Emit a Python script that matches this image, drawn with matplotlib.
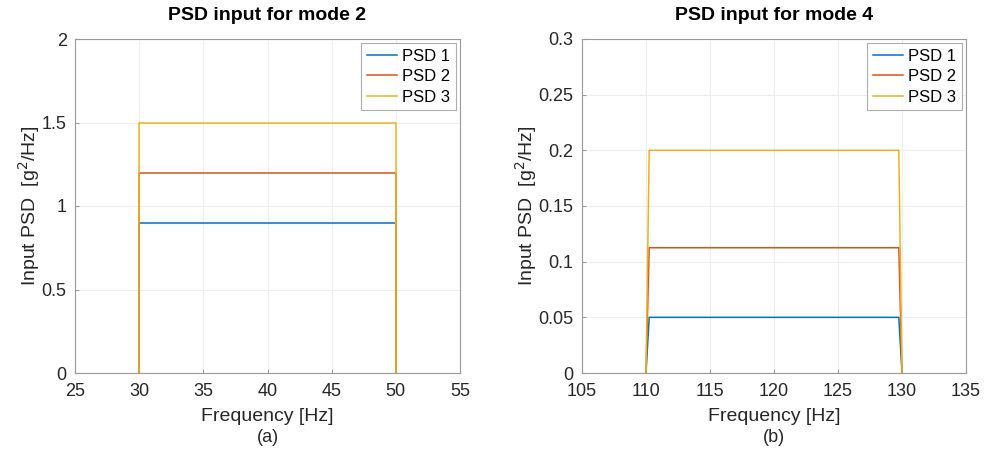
import matplotlib
matplotlib.use("Agg")
import matplotlib.pyplot as plt

plt.rcParams['font.family'] = ['Liberation Sans', 'DejaVu Sans']

# data
freq_a = [30, 30, 50, 50]
psd_a = {
    'PSD 1': [0, 0.9, 0.9, 0],
    'PSD 2': [0, 1.2, 1.2, 0],
    'PSD 3': [0, 1.5, 1.5, 0],
}
freq_b = [110, 110.25, 129.75, 130]
psd_b = {
    'PSD 1': [0, 0.05, 0.05, 0],
    'PSD 2': [0, 0.1125, 0.1125, 0],
    'PSD 3': [0, 0.2, 0.2, 0],
}
colores = ['#0072BD', '#D95319', '#EDB120']

fig = plt.figure(figsize=(9.9, 4.54), dpi=100)
W, H = 990, 454


def panel(rect, freq, psd, xlim, xticks, ylim, yticks, ytlabels, titulo, letra):
    l, t, r, b = rect
    ax = fig.add_axes([l / W, 1 - b / H, (r - l) / W, (b - t) / H])
    for (nombre, vals), c in zip(psd.items(), colores):
        ax.plot(freq, vals, color=c, lw=1.1, label=nombre)
    ax.set_xlim(xlim)
    ax.set_ylim(ylim)
    ax.set_xticks(xticks)
    ax.set_yticks(yticks)
    ax.set_yticklabels(ytlabels)
    ax.grid(True, color='#ededed', lw=0.8)
    ax.set_axisbelow(True)
    for s in ax.spines.values():
        s.set_color('#999999')
        s.set_linewidth(0.8)
    ax.tick_params(direction='in', length=3, color='#999999', labelsize=13,
                   labelcolor='#262626')
    ax.tick_params(axis='x', pad=7)
    ax.tick_params(axis='y', pad=6)
    ax.set_title(titulo, fontsize=14, fontweight='bold', pad=14)
    ax.set_xlabel('Frequency [Hz]', fontsize=14, color='#262626', labelpad=6)
    ax.set_ylabel('Input PSD  [g$^2$/Hz]', fontsize=14, color='#262626', labelpad=0)
    ax.text(0.5, -0.168, letra, transform=ax.transAxes, ha='center', va='top',
            fontsize=13, color='#262626')
    leg = ax.legend(loc='upper right', fontsize=12, handlelength=1.8,
                    handletextpad=0.3, borderpad=0.35, labelspacing=0.32,
                    fancybox=False, borderaxespad=0.25)
    leg.get_frame().set_edgecolor('#999999')
    leg.get_frame().set_linewidth(0.8)
    return ax


panel((75, 39, 460, 373), freq_a, psd_a, (25, 55), range(25, 56, 5),
      (0, 2), [0, 0.5, 1, 1.5, 2], ['0', '0.5', '1', '1.5', '2'],
      'PSD input for mode 2', '(a)')
panel((582, 39, 966, 373), freq_b, psd_b, (105, 135), range(105, 136, 5),
      (0, 0.3), [0, 0.05, 0.1, 0.15, 0.2, 0.25, 0.3],
      ['0', '0.05', '0.1', '0.15', '0.2', '0.25', '0.3'],
      'PSD input for mode 4', '(b)')

fig.savefig('out.png', dpi=100)
